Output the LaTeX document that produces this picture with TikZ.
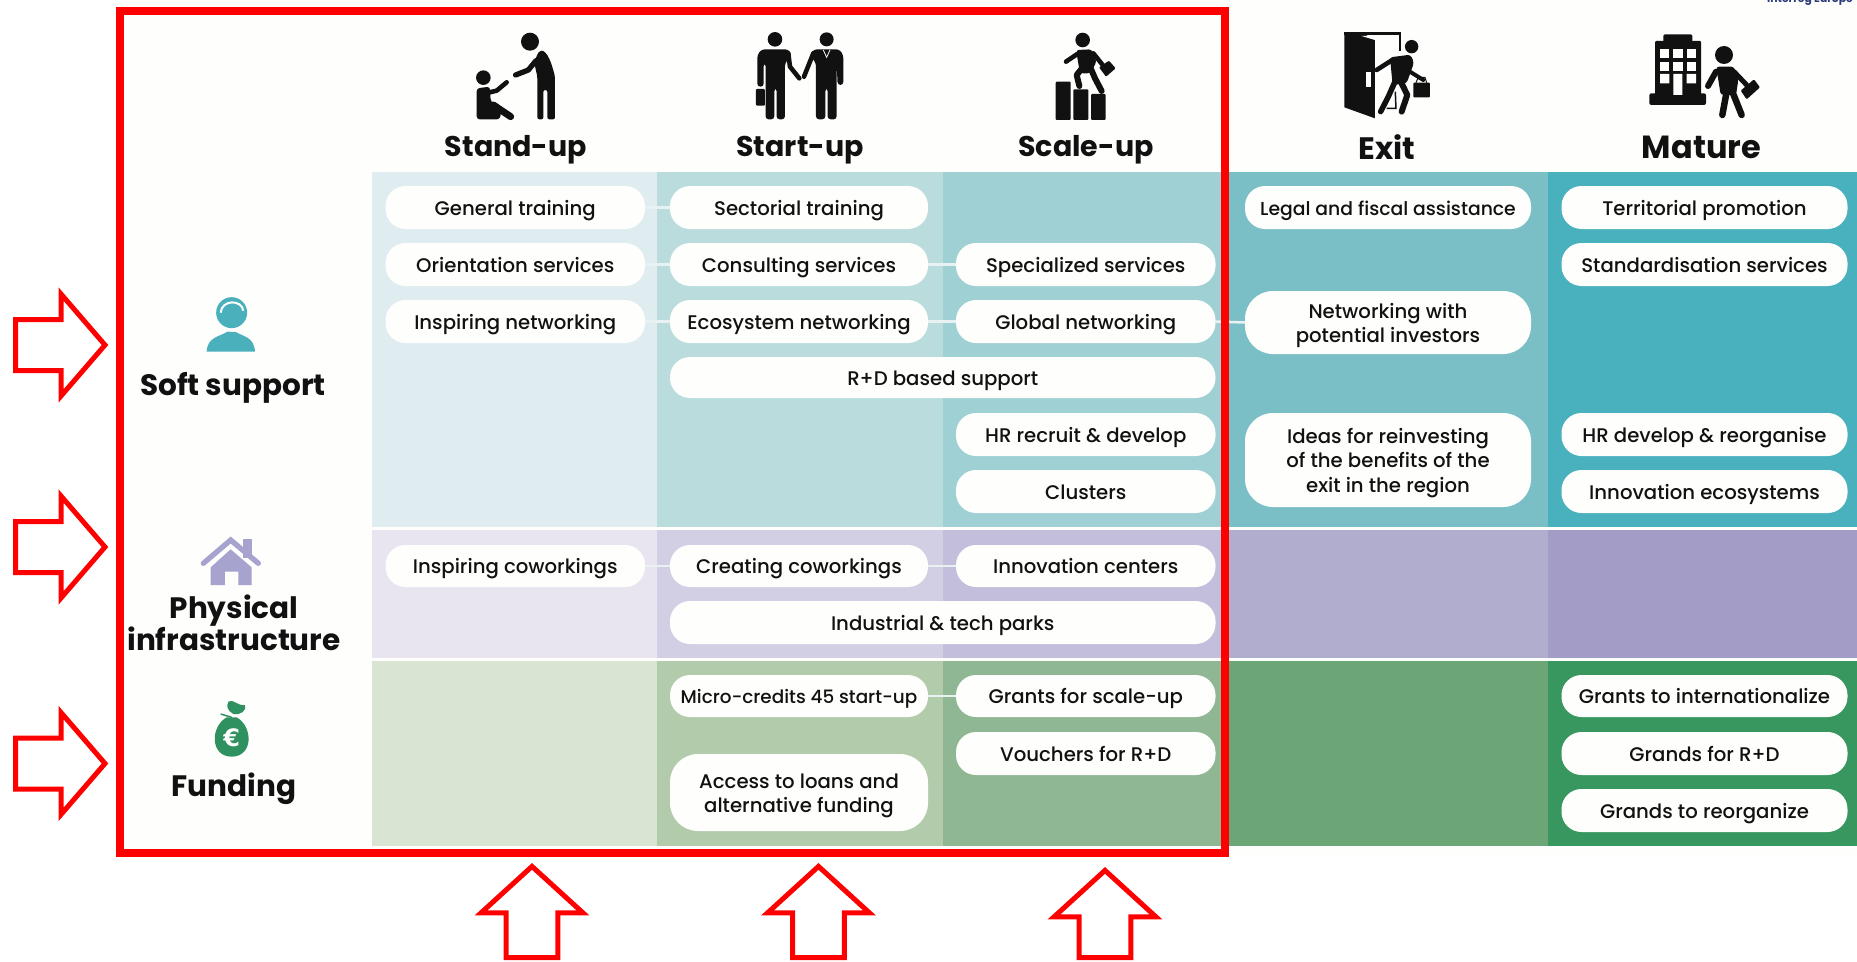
\documentclass[tikz,border=0pt]{standalone}
\usepackage{fontspec}
\setmainfont{Poppins}
\newfontfamily\euro{DejaVu Sans}
\newfontfamily\pillfont{Poppins Medium}
\definecolor{paper}{HTML}{FEFEFC}
\definecolor{sa}{HTML}{DFECF0}\definecolor{sb}{HTML}{BADCDD}\definecolor{sc}{HTML}{9FD0D3}\definecolor{sd}{HTML}{7ABFC6}\definecolor{se}{HTML}{49B1BE}
\definecolor{pa}{HTML}{E8E5F0}\definecolor{pb}{HTML}{D2CEE4}\definecolor{pc}{HTML}{C3BEDC}\definecolor{pd}{HTML}{B0ADCF}\definecolor{pe}{HTML}{A29CC6}
\definecolor{fa}{HTML}{DAE4D2}\definecolor{fb}{HTML}{B2CBAB}\definecolor{fc}{HTML}{8FB793}\definecolor{fd}{HTML}{6CA676}\definecolor{fe}{HTML}{38965F}
\definecolor{ink}{HTML}{111111}
\definecolor{teal}{HTML}{4AB0BC}\definecolor{lav}{HTML}{A6A3CE}\definecolor{bag}{HTML}{2F9160}
\definecolor{link}{HTML}{E9F2F3}\definecolor{navy}{HTML}{2B3A78}
\tikzset{
 pill/.style={fill=paper,draw=none,rounded corners=20pt,align=center,inner sep=0pt,text=ink,
   font=\pillfont\fontsize{19.7}{24.5}\selectfont},
 tallpill/.style={pill,rounded corners=28pt},
 heading/.style={inner sep=0pt,text=ink,font=\fontsize{28.5}{33}\selectfont\bfseries},
 sidelabel/.style={inner sep=0pt,align=center,text=ink,font=\fontsize{29.5}{31}\selectfont\bfseries},
 linkline/.style={draw=link,line width=2.5pt},
 redarrow/.style={draw=red,line width=5pt,miter limit=10,line join=miter},
 limb/.style={draw=ink,line cap=round,line join=round},
}
\newcommand{\pillnode}[7][pill]{%
 \pgfmathsetmacro\cx{(#3+#5)/2}\pgfmathsetmacro\cy{(#4+#6)/2}%
 \pgfmathsetmacro\pw{#5-#3}\pgfmathsetmacro\ph{#6-#4}%
 \node[#1,minimum width=\pw pt,minimum height=\ph pt] (#2) at (\cx,\cy) {\rule{0pt}{21pt}#7\rule[-5.4pt]{0pt}{1pt}};}
\newcommand{\rightarrowshape}[1]{\draw[redarrow] (15.5,#1-25.5) -- (61,#1-25.5) -- (61,#1-51) -- (105,#1) -- (61,#1+51) -- (61,#1+25.5) -- (15.5,#1+25.5) -- cycle;}
\newcommand{\uparrowshape}[2]{\draw[redarrow] (#1,#2) -- (#1+51,#2+46.5) -- (#1+25.8,#2+46.5) -- (#1+25.8,957.5) -- (#1-25.8,957.5) -- (#1-25.8,#2+46.5) -- (#1-51,#2+46.5) -- cycle;}
\begin{document}
\begin{tikzpicture}[x=1pt,y=-1pt]
\useasboundingbox (0,0) rectangle (1857,961);
\fill[white] (0,0) rectangle (1857,961);
\fill[paper] (115,0) rectangle (1857,858);
% cut-off logo text
\begin{scope}
\clip (1760,0) rectangle (1857,4);
\node[anchor=base,inner sep=0pt,text=navy,font=\fontsize{10.8}{13}\selectfont\bfseries] (logo) at (1810,2) {Interreg Europe};
\end{scope}
% cells
\foreach \xa/\xb/\ca/\cb/\cc in {372/657/sa/pa/fa,657/943/sb/pb/fb,943/1228.5/sc/pc/fc,1228.5/1548/sd/pd/fd,1548/1857/se/pe/fe}{
 \fill[\ca] (\xa,172) rectangle (\xb,527);
 \fill[\cb] (\xa,530) rectangle (\xb,658);
 \fill[\cc] (\xa,661) rectangle (\xb,845.5);
}
% pills
\pillnode{a1}{385.5}{186}{645}{229}{General training}
\pillnode{a2}{385.5}{243}{645}{286}{Orientation services}
\pillnode{a3}{385.5}{300}{645}{343}{Inspiring networking}
\pillnode{b1}{670}{186}{928}{229}{Sectorial training}
\pillnode{b2}{670}{243}{928}{286}{Consulting services}
\pillnode{b3}{670}{300}{928}{343}{Ecosystem networking}
\pillnode{rd}{670}{357}{1215.5}{398}{R+D based support}
\pillnode{c2}{956}{243}{1215.5}{286}{Specialized services}
\pillnode{c3}{956}{300}{1215.5}{343}{Global networking}
\pillnode{c5}{956}{413}{1215.5}{456}{HR recruit \& develop}
\pillnode{c6}{956}{470}{1215.5}{513}{Clusters}
\pillnode{d1}{1245}{186}{1531}{229}{\fontsize{18.8}{24.5}\selectfont Legal and fiscal assistance}
\pillnode[tallpill]{d3}{1245}{291}{1531}{354}{Networking with\\potential investors}
\pillnode[tallpill]{d5}{1245}{413}{1531}{507}{Ideas for reinvesting\\of the benefits of the\\exit in the region}
\pillnode{e1}{1561.5}{186}{1847.5}{229}{Territorial promotion}
\pillnode{e2}{1561.5}{243}{1847.5}{286}{Standardisation services}
\pillnode{e5}{1561.5}{413}{1847.5}{456}{HR develop \& reorganise}
\pillnode{e6}{1561.5}{470}{1847.5}{513}{Innovation ecosystems}
\pillnode{pa1}{385.5}{545}{645}{587}{Inspiring coworkings}
\pillnode{pb1}{670}{545}{928}{587}{Creating coworkings}
\pillnode{pc1}{956}{545}{1215.5}{587}{Innovation centers}
\pillnode{pk}{670}{601}{1215.5}{644}{Industrial \& tech parks}
\pillnode{fb1}{670}{675}{928}{717}{\fontsize{18.4}{24.5}\selectfont Micro-credits 45 start-up}
\pillnode[tallpill]{fb2}{670}{754}{928}{831}{Access to loans and\\alternative funding}
\pillnode{fc1}{956}{675}{1215.5}{717}{Grants for scale-up}
\pillnode{fc2}{956}{732}{1215.5}{775}{Vouchers for R+D}
\pillnode{fe1}{1561.5}{675}{1847.5}{717}{Grants to internationalize}
\pillnode{fe2}{1561.5}{732}{1847.5}{775}{Grands for R+D}
\pillnode{fe3}{1561.5}{789}{1847.5}{832}{Grands to reorganize}
% connectors
\foreach \p/\q in {a1/b1,a2/b2,a3/b3,b2/c2,b3/c3,c3/d3,pa1/pb1,pb1/pc1,fb1/fc1}
 \draw[linkline] (\p.east) -- (\q.west);
% headings
\node[heading] (h1) at (516,150) {Stand-up};
\node[heading] (h2) at (800,150) {Start-up};
\node[heading] (h3) at (1086,150) {Scale-up};
\node[heading,font=\fontsize{31}{33}\selectfont\bfseries] (h4) at (1387,147) {Exit};
\node[heading,font=\fontsize{32}{33}\selectfont\bfseries] (h5) at (1701.5,147) {Mature};
\node[sidelabel] (s1) at (233,388) {Soft support};
\node[sidelabel] (s2) at (234,623) {Physical\\infrastructure};
\node[sidelabel] (s3) at (234,789) {Funding};
% stand-up icon
\begin{scope}[shift={(460,20)},x=0.3333pt,y=-0.3333pt]
\fill[ink] (210,65) circle[radius=9pt];
\fill[ink,rounded corners=2pt] (238,92) .. controls (262,92) and (275,130) .. (285,170) -- (285,298) -- (262,298) -- (262,210) -- (250,210) -- (250,298) -- (232,298) -- (232,170) -- (222,125) -- cycle;
\draw[limb,line width=5.3pt] (228,122) -- (205,150) -- (167,165);
\fill[ink] (70,173) circle[radius=7.3pt];
\fill[ink,rounded corners=3pt] (50,205) -- (90,200) -- (92,245) -- (125,262) -- (120,298) -- (50,298) -- cycle;
\draw[limb,line width=7pt] (100,255) -- (152,290);
\draw[limb,line width=4.6pt] (85,218) -- (110,212) -- (140,187);
% start-up icon
\fill[ink] (945,58) circle[radius=7.3pt];
\fill[ink,rounded corners=3pt] (892,200) -- (892,105) -- (905,88) -- (985,88) -- (995,105) -- (975,130) -- (975,298) -- (950,298) -- (950,205) -- (943,205) -- (943,298) -- (917,298) -- (917,130) -- (911,130) -- (911,200) -- cycle;
\draw[limb,line width=4.6pt] (985,100) -- (990,140) -- (1018,175);
\fill[ink,rounded corners=1pt] (888,207) rectangle (915,257);
\fill[ink] (1100,58) circle[radius=7pt];
\fill[ink,rounded corners=3pt] (1150,195) -- (1150,105) -- (1138,88) -- (1062,88) -- (1050,105) -- (1068,130) -- (1068,298) -- (1096,298) -- (1096,205) -- (1103,205) -- (1103,298) -- (1130,298) -- (1130,130) -- (1133,195) -- cycle;
\draw[limb,line width=4.6pt] (1060,100) -- (1032,170);
\draw[paper,line width=0.8pt] (1090,90) -- (1100,112) -- (1110,90);
\end{scope}
% scale-up and exit icons
\begin{scope}[shift={(1040,20)},x=0.3333pt,y=-0.3333pt]
\fill[ink] (128,60) circle[radius=7.3pt];
\fill[ink,rounded corners=1pt] (47,185) rectangle (92,300) (100,208) rectangle (145,300) (153,222) rectangle (197,300);
\fill[ink,rounded corners=3pt] (108,90) -- (155,88) -- (170,125) -- (150,160) -- (120,160) -- cycle;
\draw[limb,line width=6pt] (130,140) -- (110,165) -- (118,198);
\draw[limb,line width=6pt] (150,140) -- (165,175) -- (185,213);
\draw[limb,line width=4.6pt] (112,102) -- (78,125);
\draw[limb,line width=4.6pt] (160,100) -- (188,135);
\fill[ink,rounded corners=1pt] (177,142) -- (207,122) -- (227,145) -- (198,170) -- cycle;
\draw[ink,line width=2.6pt] (913,40) -- (1080,40) -- (1080,92);
\fill[ink] (913,38) -- (965,38) -- (1005,60) -- (1005,295) -- (913,262) -- cycle;
\fill[paper] (978,155) rectangle (992,200);
\fill[paper] (965,48) -- (1005,48) -- (1005,60) -- cycle;
\fill[ink] (1115,80) circle[radius=6.7pt];
\fill[ink,rounded corners=3pt] (1050,112) -- (1112,104) -- (1122,128) -- (1100,190) -- (1058,195) -- cycle;
\draw[limb,line width=4.6pt] (1060,118) -- (1010,150);
\draw[limb,line width=5.5pt] (1065,185) -- (1045,230) -- (1022,275);
\draw[limb,line width=6pt] (1085,190) -- (1102,225) -- (1085,275);
\draw[ink,line width=1.5pt] (1040,265) -- (1068,265) -- (1066,215);
\draw[limb,line width=4pt] (1110,155) -- (1150,180);
\fill[ink,rounded corners=1pt] (1120,188) rectangle (1170,232);
\draw[ink,line width=1pt] (1128,188) -- (1135,172) -- (1155,172) -- (1160,188);
\end{scope}
% mature icon
\begin{scope}[shift={(1630,0)},x=0.3333pt,y=-0.3333pt]
\fill[ink,rounded corners=1.5pt] (100,103) rectangle (187,130);
\fill[ink,rounded corners=1pt] (75,123) rectangle (213,285);
\fill[ink,rounded corners=2pt] (58,280) rectangle (228,315);
\foreach \wx in {90,130,170}\foreach \wy in {147,185}\fill[paper] (\wx,\wy) rectangle ++(28,27);
\fill[paper] (90,222) rectangle (118,250) (170,222) rectangle (198,250) (130,222) rectangle (157,285);
\fill[ink] (282,165) circle[radius=9pt];
\fill[ink,rounded corners=3pt] (258,200) -- (312,200) -- (325,240) -- (318,285) -- (272,285) -- (265,240) -- cycle;
\draw[limb,line width=6.5pt] (290,275) -- (277,345);
\draw[limb,line width=6.5pt] (307,275) -- (335,345);
\draw[limb,line width=6pt] (258,215) -- (234,258);
\draw[limb,line width=5pt] (312,215) -- (350,255);
\fill[ink,rounded corners=1pt] (332,272) -- (372,238) -- (390,262) -- (350,298) -- cycle;
\end{scope}
% headset icon
\begin{scope}[shift={(190,290)},x=0.3333pt,y=-0.3333pt]
\fill[teal] (50,185) .. controls (52,140) and (90,140) .. (112,125) -- (135,125) .. controls (160,140) and (192,140) .. (195,185) -- cycle;
\fill[teal] (125,68) circle[radius=15.5pt];
\draw[paper,line width=2pt] (92,68) .. controls (95,28) and (155,28) .. (160,62);
\draw[paper,line width=1.3pt] (100,112) .. controls (125,132) and (155,125) .. (170,100);
\end{scope}
% house icon
\begin{scope}[shift={(190,530)},x=0.3333pt,y=-0.3333pt]
\fill[lav] (160,28) rectangle (187,85);
\draw[lav,line width=5.3pt,line cap=round] (40,100) -- (122,30) -- (205,100);
\fill[lav] (62,112) -- (122,58) -- (185,112) -- (185,165) -- (145,165) -- (145,125) -- (105,125) -- (105,165) -- (62,165) -- cycle;
\end{scope}
% money bag icon
\begin{scope}[shift={(190,690)},x=0.3333pt,y=-0.3333pt]
\fill[bag] (110,82) .. controls (60,110) and (60,200) .. (125,200) .. controls (190,200) and (190,110) .. (140,82) -- cycle;
\fill[bag] (115,35) .. controls (130,25) and (140,48) .. (165,45) .. controls (172,60) and (150,78) .. (130,72) .. controls (112,62) and (108,48) .. (115,35) -- cycle;
\draw[bag,line width=1.5pt] (92,72) -- (125,82);
\node[inner sep=0pt,text=paper,font=\euro\fontsize{24}{24}\selectfont\bfseries] (eur) at (125,143) {€};
\end{scope}
% red frame and arrows
\draw[red,line width=8pt] (119.5,10.5) rectangle (1225,852.5);
\rightarrowshape{345}
\rightarrowshape{547}
\rightarrowshape{763.5}
\uparrowshape{532}{866.4}
\uparrowshape{818.5}{866.4}
\uparrowshape{1105}{870.4}
\end{tikzpicture}
\end{document}
